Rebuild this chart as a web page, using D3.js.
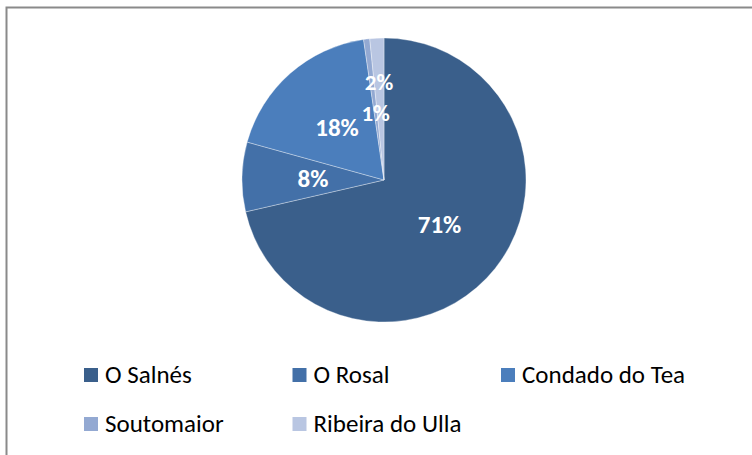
<!DOCTYPE html>
<html>
<head>
<meta charset="utf-8">
<script src="https://cdn.jsdelivr.net/npm/d3@7"></script>
<style>
  html, body { margin: 0; padding: 0; background: #fff; }
  svg { display: block; }
  text { font-family: Carlito, Lato, "Open Sans", sans-serif; }
</style>
</head>
<body>
<svg id="chart" width="752" height="455"></svg>
<script>
const categories = ["O Salnés", "O Rosal", "Condado do Tea", "Soutomaior", "Ribeira do Ulla"];
const values = [71.4, 7.9, 18.4, 0.7, 1.6];
const colors = ["#3A5F8B", "#4370A8", "#4B7EBC", "#93A9D2", "#B9C6E2"];

const W = 752, H = 455;
const svg = d3.select("#chart");

// outer frame (continues beyond the right/bottom of the window)
svg.append("rect")
  .attr("x", 6.5).attr("y", 7.5)
  .attr("width", 760).attr("height", 470)
  .attr("fill", "none")
  .attr("stroke", "#8a8a8a")
  .attr("stroke-width", 2);

const cx = 384, cy = 180, R = 142;
const total = d3.sum(values);
const data = categories.map((c, i) => ({ name: c, value: values[i], color: colors[i], i }));

const pie = d3.pie().value(d => d.value).sort(null);
const arcs = pie(data);
const arc = d3.arc().innerRadius(0).outerRadius(R);

const g = svg.append("g").attr("transform", `translate(${cx},${cy})`);

g.selectAll("path.slice")
  .data(arcs)
  .enter().append("path")
  .attr("class", "slice")
  .attr("d", arc)
  .attr("fill", d => d.data.color)
  .attr("stroke", "rgba(255,255,255,0.45)")
  .attr("stroke-width", 0.75);

// label radius: centroid at half radius, the smallest slices' labels staggered
function labelR(d) {
  if (d.data.i === 4) return R * 0.69;
  if (d.data.i === 3) return R * 0.48;
  return R * 0.5;
}

g.selectAll("text.lbl")
  .data(arcs)
  .enter().append("text")
  .attr("class", "lbl")
  .attr("transform", d => {
    const a = (d.startAngle + d.endAngle) / 2;
    const r = labelR(d);
    return `translate(${Math.sin(a) * r},${-Math.cos(a) * r})`;
  })
  .attr("text-anchor", "middle")
  .attr("dy", "0.36em")
  .attr("fill", "#ffffff")
  .attr("font-weight", "bold")
  .attr("font-size", d => d.data.i >= 3 ? 23 : 25)
  .text(d => Math.round(d.data.value / total * 100) + "%");

// legend
const colX = d3.scaleLinear().domain([0, 1]).range([84, 292.5]);
const rowY = d3.scaleLinear().domain([0, 1]).range([383, 432]);

const leg = svg.selectAll("g.leg")
  .data(data)
  .enter().append("g")
  .attr("class", "leg")
  .attr("transform", d => `translate(${colX(d.i % 3)},${rowY(Math.floor(d.i / 3))})`);

leg.append("rect")
  .attr("x", 0).attr("y", -15)
  .attr("width", 14).attr("height", 14)
  .attr("fill", d => d.color);

leg.append("text")
  .attr("x", 21).attr("y", 0)
  .attr("font-size", 25)
  .attr("fill", "#000")
  .text(d => d.name);
</script>
</body>
</html>
